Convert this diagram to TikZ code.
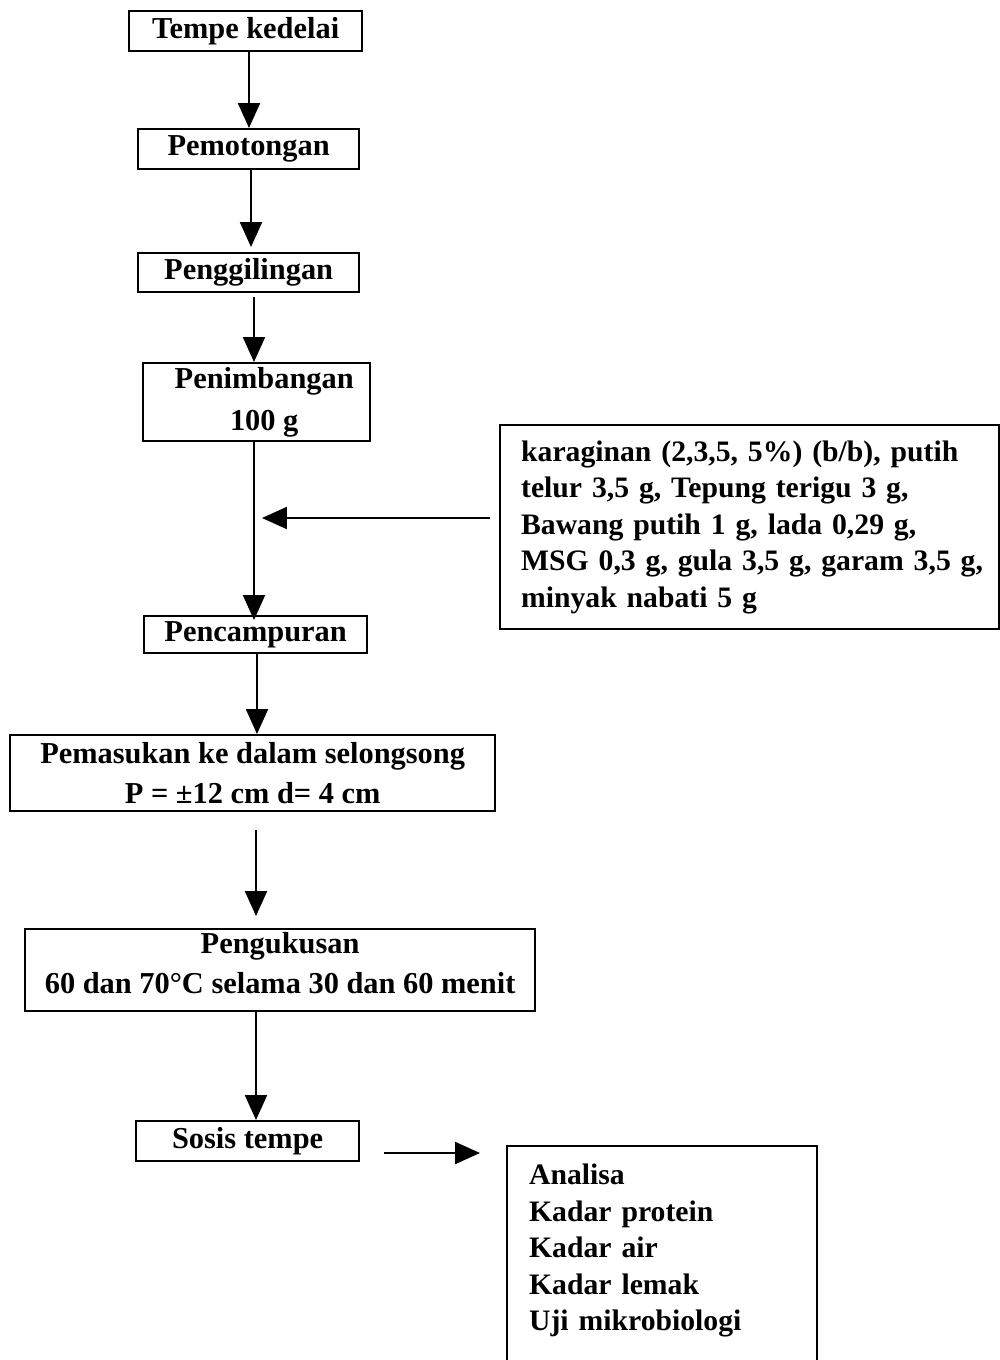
\documentclass[tikz,border=0pt]{standalone}
\usepackage{fontspec}
\setmainfont{Liberation Serif}
\usetikzlibrary{arrows.meta}
\newcommand\mytightsp{\spaceskip=0.19em plus 0.05em\relax}
\tikzset{
  bx/.style 2 args={draw, line width=1.3pt, minimum width=#1*0.02cm, minimum height=#2*0.02cm,
    inner sep=0pt, anchor=north west, align=center},
  lbox/.style={draw, line width=1.3pt, anchor=north west, align=left,
    font=\bfseries\fontsize{16.9}{20.8}\selectfont\mytightsp},
  arr/.style={line width=1.3pt, -{Triangle[width=0.44cm,length=0.5cm]}},
}
\begin{document}
\begin{tikzpicture}[x=0.02cm,y=-0.02cm, font=\bfseries\fontsize{17.3}{20.8}\selectfont]
\useasboundingbox (0,0) rectangle (1000,1360);
\clip (0,0) rectangle (1000,1360);
\node[bx={233}{40}] (tk) at (128,10) {Tempe kedelai};
\node[bx={221}{40}] (pm) at (137,128) {Pemotongan};
\node[bx={221}{39}] (pg) at (137,252) {Penggilingan};
\node[bx={227}{78}] (pn) at (142,362) {\hspace*{0.5em}Penimbangan\\[3pt] \hspace*{0.5em}100 g};
\node[bx={223}{37}] (pc) at (143,615) {Pencampuran};
\node[bx={485}{76}] (ps) at (9,734) {Pemasukan ke dalam selongsong\\[2pt] P = ±12 cm d= 4 cm};
\node[bx={510}{82}] (pk) at (24,928) {Pengukusan\\[2pt] 60 dan 70°C selama 30 dan 60 menit\\[-12.5pt]\mbox{}};
\node[bx={223}{40}] (st) at (135,1120) {Sosis tempe};
\node[lbox, minimum width=499*0.02cm, minimum height=204*0.02cm,
  inner xsep=21*0.02cm, text width=457*0.02cm] (ing) at (499,424)
  {\mbox{karaginan (2,3,5, 5\%) (b/b), putih}\\ \mbox{telur 3,5 g, Tepung terigu 3 g,}\\ \mbox{Bawang putih 1 g, lada 0,29 g,}\\ \mbox{MSG 0,3 g, gula 3,5 g, garam 3,5 g,}\\ \mbox{minyak nabati 5 g}};
\node[lbox, minimum width=310*0.02cm, minimum height=250*0.02cm,
  inner xsep=22*0.02cm, text width=266*0.02cm] (an) at (506,1145)
  {Analisa\\ Kadar protein\\ Kadar air\\ Kadar lemak\\ Uji mikrobiologi\\ \strut};
\coordinate (join) at (262,518);
\draw[arr] (tk.south -| 249,0) -- (pm.north -| 249,0);
\draw[arr] (pm.south -| 251,0) -- ([yshift=0.1cm]pg.north -| 251,0);
\draw[arr, shorten <=4*0.02cm] (pg.south -| 254,0) -- (pn.north -| 254,0);
\draw[arr, shorten >=-5*0.02cm] (pn.south -| 254,0) -- (pc.north -| 254,0);
\draw[arr, shorten <=9*0.02cm] (ing.west |- join) -- (join);
\draw[arr] (pc.south -| 257,0) -- (ps.north -| 257,0);
\draw[arr, shorten <=18*0.02cm, shorten >=12*0.02cm] (ps.south -| 256,0) -- (pk.north -| 256,0);
\draw[arr] (pk.south -| 256,0) -- (st.north -| 256,0);
\draw[arr, shorten <=24*0.02cm, shorten >=26*0.02cm] (st.east |- 0,1153) -- (an.west |- 0,1153);
\end{tikzpicture}
\end{document}
